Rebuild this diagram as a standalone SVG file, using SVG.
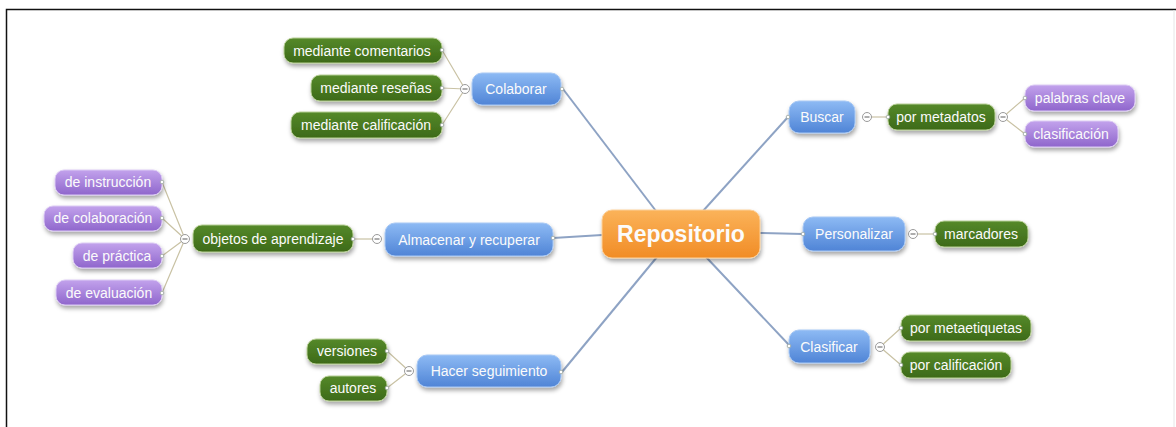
<svg xmlns="http://www.w3.org/2000/svg" width="1176" height="427" viewBox="0 0 1176 427">
<defs>
<linearGradient id="gBlue" x1="0" y1="0" x2="0" y2="1"><stop offset="0" stop-color="#8dbaf4"/><stop offset="1" stop-color="#4f84d6"/></linearGradient>
<linearGradient id="gGreen" x1="0" y1="0" x2="0" y2="1"><stop offset="0" stop-color="#55892a"/><stop offset="1" stop-color="#3d6a18"/></linearGradient>
<linearGradient id="gPurple" x1="0" y1="0" x2="0" y2="1"><stop offset="0" stop-color="#c2a2ec"/><stop offset="1" stop-color="#8f66cc"/></linearGradient>
<linearGradient id="gOrange" x1="0" y1="0" x2="0" y2="1"><stop offset="0" stop-color="#fbb35a"/><stop offset="1" stop-color="#f18c25"/></linearGradient>
<filter id="sh" x="-20%" y="-30%" width="140%" height="180%"><feDropShadow dx="1" dy="3" stdDeviation="2" flood-color="#000" flood-opacity="0.35"/></filter>
<g id="knob"><circle r="4.5" fill="#fff" stroke="#9a9a9a" stroke-width="1"/><path d="M-2.5 0 H2.5" stroke="#777" stroke-width="1.2"/></g>
</defs>
<style>
text{font-family:"Liberation Sans",Arial,sans-serif;fill:#fbfbfb;text-anchor:middle;dominant-baseline:central}
.t{font-size:14px}
.blue{fill:url(#gBlue);stroke:#a9c9f4;stroke-width:1}
.green{fill:url(#gGreen);stroke:#b8cf96;stroke-width:1}
.purple{fill:url(#gPurple);stroke:#dccbf4;stroke-width:1}
.orange{fill:url(#gOrange);stroke:#fcd09a;stroke-width:1}
.main{stroke:#8ea3c4;stroke-width:2;fill:none}
.sub{stroke:#c9c2a4;stroke-width:1.2;fill:none}
.dot{fill:#fff;stroke:#9aa6a0;stroke-width:0.8}
</style>
<rect x="0" y="0" width="1176" height="427" fill="#fff"/>
<path d="M6.5 427 V9.5 H1176" fill="none" stroke="#111" stroke-width="1.5"/>
<line x1="1174" y1="10" x2="1174" y2="427" stroke="#e6e6e6" stroke-width="1"/>

<g id="connectors">
<path class="main" d="M563 89 L656 211"/>
<path class="main" d="M703 211 L788 117"/>
<path class="main" d="M553 238 L602 235"/>
<path class="main" d="M760 233 L803 234"/>
<path class="main" d="M562 372 L657 257"/>
<path class="main" d="M706 257 L789 345"/>
<path class="sub" d="M465 89 L442 50 M465 89 L442 88 M465 89 L442 125"/>
<path class="sub" d="M377 239 L353 239"/>
<path class="sub" d="M185 239 L162 182 M185 239 L162 218 M185 239 L162 256 M185 239 L162 293"/>
<path class="sub" d="M409 371 L387 351 M409 371 L387 388"/>
<path class="sub" d="M867 117 L888 117"/>
<path class="sub" d="M1003 117 L1025 98 M1003 117 L1025 134"/>
<path class="sub" d="M913 234 L935 234"/>
<path class="sub" d="M880 347 L901 328 M880 347 L901 365"/>
</g>

<g id="n-repositorio"><rect class="orange" filter="url(#sh)" x="602" y="210" width="158" height="48" rx="10"/><text x="681" y="234" style="font-size:23px;font-weight:bold">Repositorio</text></g>

<g id="n-colaborar"><rect class="blue" filter="url(#sh)" x="472" y="73" width="89" height="32" rx="10"/><text class="t" x="516" y="89">Colaborar</text><use href="#knob" x="465" y="89"/><circle class="dot" cx="562" cy="89" r="1.8"/></g>
<g id="n-comentarios"><rect class="green" filter="url(#sh)" x="284" y="38" width="158" height="25" rx="9"/><text class="t" x="362" y="50.5">mediante comentarios</text><circle class="dot" cx="442" cy="50" r="1.8"/></g>
<g id="n-resenas"><rect class="green" filter="url(#sh)" x="311" y="75" width="131" height="26" rx="9"/><text class="t" x="376" y="88">mediante reseñas</text><circle class="dot" cx="442" cy="88" r="1.8"/></g>
<g id="n-calificacion"><rect class="green" filter="url(#sh)" x="291" y="112" width="151" height="26" rx="9"/><text class="t" x="366" y="125">mediante calificación</text><circle class="dot" cx="442" cy="125" r="1.8"/></g>

<g id="n-almacenar"><rect class="blue" filter="url(#sh)" x="385" y="223" width="168" height="33" rx="10"/><text class="t" x="469" y="239.5">Almacenar y recuperar</text><use href="#knob" x="377" y="239"/><circle class="dot" cx="553" cy="238" r="1.8"/></g>
<g id="n-objetos"><rect class="green" filter="url(#sh)" x="193" y="225" width="160" height="27" rx="9"/><text class="t" x="273" y="238.5">objetos de aprendizaje</text><use href="#knob" x="185" y="239"/><circle class="dot" cx="353" cy="239" r="1.8"/></g>
<g id="n-instruccion"><rect class="purple" filter="url(#sh)" x="55" y="170" width="107" height="25" rx="9"/><text class="t" x="108" y="182">de instrucción</text><circle class="dot" cx="162" cy="182" r="1.8"/></g>
<g id="n-colaboracion"><rect class="purple" filter="url(#sh)" x="44" y="206" width="118" height="25" rx="9"/><text class="t" x="103" y="218">de colaboración</text><circle class="dot" cx="162" cy="218" r="1.8"/></g>
<g id="n-practica"><rect class="purple" filter="url(#sh)" x="73" y="243" width="89" height="25" rx="9"/><text class="t" x="117" y="255.5">de práctica</text><circle class="dot" cx="162" cy="256" r="1.8"/></g>
<g id="n-evaluacion"><rect class="purple" filter="url(#sh)" x="56" y="280" width="106" height="25" rx="9"/><text class="t" x="109" y="292.5">de evaluación</text><circle class="dot" cx="162" cy="293" r="1.8"/></g>

<g id="n-seguimiento"><rect class="blue" filter="url(#sh)" x="417" y="355" width="144" height="32" rx="10"/><text class="t" x="489" y="371">Hacer seguimiento</text><use href="#knob" x="409" y="371"/><circle class="dot" cx="561" cy="372" r="1.8"/></g>
<g id="n-versiones"><rect class="green" filter="url(#sh)" x="307" y="339" width="80" height="25" rx="9"/><text class="t" x="347" y="351">versiones</text><circle class="dot" cx="387" cy="351" r="1.8"/></g>
<g id="n-autores"><rect class="green" filter="url(#sh)" x="320" y="376" width="67" height="25" rx="9"/><text class="t" x="353" y="388">autores</text><circle class="dot" cx="387" cy="388" r="1.8"/></g>

<g id="n-buscar"><rect class="blue" filter="url(#sh)" x="789" y="101" width="66" height="32" rx="10"/><text class="t" x="822" y="117">Buscar</text><use href="#knob" x="867" y="117"/><circle class="dot" cx="788" cy="117" r="1.8"/></g>
<g id="n-metadatos"><rect class="green" filter="url(#sh)" x="888" y="104" width="107" height="26" rx="9"/><text class="t" x="941" y="117">por metadatos</text><use href="#knob" x="1003" y="117"/><circle class="dot" cx="888" cy="117" r="1.8"/></g>
<g id="n-palabras"><rect class="purple" filter="url(#sh)" x="1025" y="85" width="110" height="26" rx="9"/><text class="t" x="1080" y="98">palabras clave</text><circle class="dot" cx="1025" cy="98" r="1.8"/></g>
<g id="n-clasificacion"><rect class="purple" filter="url(#sh)" x="1025" y="121" width="93" height="26" rx="9"/><text class="t" x="1071" y="134">clasificación</text><circle class="dot" cx="1025" cy="134" r="1.8"/></g>

<g id="n-personalizar"><rect class="blue" filter="url(#sh)" x="803" y="217" width="102" height="34" rx="10"/><text class="t" x="854" y="234">Personalizar</text><use href="#knob" x="913" y="234"/><circle class="dot" cx="803" cy="234" r="1.8"/></g>
<g id="n-marcadores"><rect class="green" filter="url(#sh)" x="935" y="221" width="93" height="26" rx="9"/><text class="t" x="981" y="233.5">marcadores</text><circle class="dot" cx="935" cy="234" r="1.8"/></g>

<g id="n-clasificar"><rect class="blue" filter="url(#sh)" x="789" y="330" width="81" height="33" rx="10"/><text class="t" x="829" y="346.5">Clasificar</text><use href="#knob" x="880" y="347"/><circle class="dot" cx="789" cy="346" r="1.8"/></g>
<g id="n-metaetiquetas"><rect class="green" filter="url(#sh)" x="901" y="315" width="130" height="26" rx="9"/><text class="t" x="966" y="327.5">por metaetiquetas</text><circle class="dot" cx="901" cy="328" r="1.8"/></g>
<g id="n-porcalificacion"><rect class="green" filter="url(#sh)" x="901" y="352" width="110" height="26" rx="9"/><text class="t" x="956" y="364.5">por calificación</text><circle class="dot" cx="901" cy="365" r="1.8"/></g>
</svg>
